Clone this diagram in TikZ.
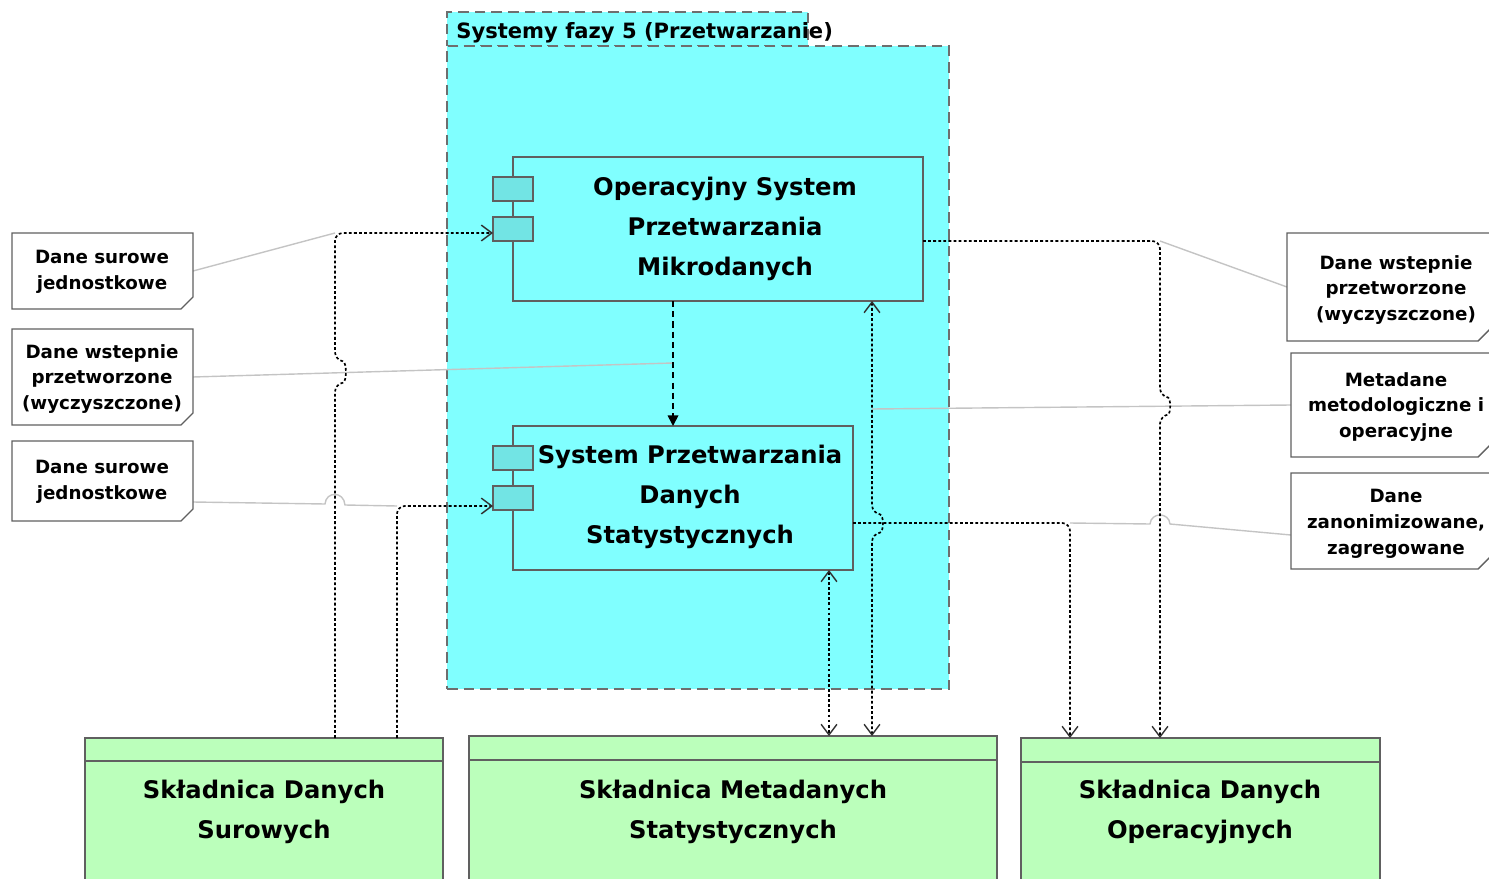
\documentclass[tikz,border=0pt]{standalone}
\usepackage{fontspec}
\setmainfont{DejaVu Sans}
\usetikzlibrary{arrows.meta,fit,calc}
\definecolor{pkgfill}{HTML}{80FFFF}
\definecolor{portfill}{HTML}{72E4E4}
\definecolor{storefill}{HTML}{BBFFBB}
\definecolor{edge}{HTML}{606060}
\definecolor{pkgedge}{HTML}{6E6E6E}
\definecolor{notegray}{HTML}{C4C4C4}
\definecolor{tipgray}{HTML}{303030}
\begin{document}
\begin{tikzpicture}[x=0.02cm,y=-0.02cm,
  pkgbox/.style={draw=pkgedge, fill=pkgfill, line width=1.2pt, dash pattern=on 6pt off 3.5pt, inner sep=0pt, outer sep=0pt},
  compbox/.style={draw=edge, fill=pkgfill, line width=0.9pt, inner sep=0pt, outer sep=0pt},
  portbox/.style={draw=edge, fill=portfill, line width=0.9pt, inner sep=0pt, outer sep=0pt},
  storebox/.style={draw=edge, fill=storefill, line width=0.9pt, inner sep=0pt, outer sep=0pt},
  notearea/.style={inner sep=0pt, outer sep=0pt},
  noteborder/.style={draw=edge, fill=white, line width=0.8pt},
  bigtext/.style={font=\bfseries\fontsize{13.8}{22.7}\selectfont, align=center, inner sep=0pt},
  notetext/.style={font=\bfseries\fontsize{10.4}{14.7}\selectfont, align=center, inner sep=0pt},
  titletext/.style={font=\bfseries\fontsize{12}{14}\selectfont, inner sep=0pt},
  noteline/.style={draw=notegray, line width=0.8pt},
  flow/.style={line width=0.95pt, dash pattern=on 1.6pt off 1.3pt, rounded corners=4.5pt},
  barb/.tip={Straight Barb[length=6pt,width=9pt,line width=0.8pt,color=tipgray]},
  trace/.style={line width=0.95pt, dash pattern=on 3.5pt off 2.3pt}
]
\useasboundingbox (0,0) rectangle (1489,879);
\clip (0,0) rectangle (1489,879);

% ---- package with its tab ----
\node[pkgbox, fit={(447,12) (808,46)}] (pkgtab) {};
\node[pkgbox, fit={(447,46) (949,689)}] (pkg) {};
\node[titletext, anchor=west] (pkgtitle) at (456,33) {Systemy fazy 5 (Przetwarzanie)};

% ---- components ----
\node[compbox, fit={(513,157) (923,301)}] (c1) {};
\node[portbox, fit={(493,177) (533,201)}] (c1p1) {};
\node[portbox, fit={(493,217) (533,241)}] (c1p2) {};
\node[bigtext] (c1t) at (725,229) {Operacyjny System\\Przetwarzania\\Mikrodanych};

\node[compbox, fit={(513,426) (853,570)}] (c2) {};
\node[portbox, fit={(493,446) (533,470)}] (c2p1) {};
\node[portbox, fit={(493,486) (533,510)}] (c2p2) {};
\node[bigtext] (c2t) at (690,497) {System Przetwarzania\\Danych\\Statystycznych};

% ---- data stores ----
\node[storebox, fit={(85,738) (443,900)}] (sds) {};
\draw[edge, line width=0.9pt] (85,761) -- (443,761);
\node[bigtext] (sdst) at (264,812) {Składnica Danych\\Surowych};

\node[storebox, fit={(469,736) (997,900)}] (sms) {};
\draw[edge, line width=0.9pt] (469,760) -- (997,760);
\node[bigtext] (smst) at (733,812) {Składnica Metadanych\\Statystycznych};

\node[storebox, fit={(1021,738) (1380,900)}] (sdo) {};
\draw[edge, line width=0.9pt] (1021,762) -- (1380,762);
\node[bigtext] (sdot) at (1200,812) {Składnica Danych\\Operacyjnych};

% ---- route positions ----
\coordinate (xA) at (335,0);
\coordinate (xB) at (397,0);
\coordinate (xC) at (673,0);
\coordinate (xG) at (829,0);
\coordinate (xF) at (872,0);
\coordinate (xE) at (1070,0);
\coordinate (xD) at (1160,0);
\coordinate (yA) at (0,233);
\coordinate (yB) at (0,506);
\coordinate (yD) at (0,241);
\coordinate (yE) at (0,523);
\coordinate (onC) at (673,363);
\coordinate (onF) at (872,409);

% ---- note links ----
\node[notearea, fit={(12,233) (193,309)}] (nL1) {};
\node[notearea, fit={(12,329) (193,425)}] (nL2) {};
\node[notearea, fit={(12,441) (193,521)}] (nL3) {};
\node[notearea, fit={(1287,233) (1490,341)}] (nR1) {};
\node[notearea, fit={(1291,353) (1490,457)}] (nR2) {};
\node[notearea, fit={(1291,473) (1490,569)}] (nR3) {};

\draw[noteline] (nL1.east) -- (xA |- yA);
\draw[noteline] (nL2.east) -- (onC);
\draw[noteline] ($(nL3.south east)+(0,-19)$) -- (325,504) .. controls (326,491) and (344,491) .. (345,505) -- (xB |- yB);
\draw[noteline] (nR1.west) -- (xD |- yD);
\draw[noteline] (nR2.west) -- (onF);
\draw[noteline] ($(nR3.south west)+(0,-34)$) -- (1170,524) .. controls (1169,512) and (1151,512) .. (1150,524) -- (xE |- yE);

% ---- dependencies ----
\draw[flow, -barb] (xA |- sds.north) -- (335,384) .. controls (347,382) and (347,362) .. (335,360) -- (xA |- yA) -- (c1p2.west |- yA);
\draw[flow, -barb] (xB |- sds.north) -- (xB |- yB) -- (c2p2.west |- yB);
\draw[trace, -{Triangle[length=6pt,width=6pt]}] (xC |- c1.south) -- (xC |- c2.north);
\draw[flow, -barb] (c1.east |- yD) -- (xD |- yD) -- (1160,396) .. controls (1171,398) and (1171,414) .. (1160,416) -- (xD |- sdo.north);
\draw[flow, -barb] (c2.east |- yE) -- (xE |- yE) -- (xE |- sdo.north);
\draw[flow, barb-barb] (xF |- c1.south) -- (872,513) .. controls (884,515) and (884,532) .. (872,534) -- (xF |- sms.north);
\draw[flow, barb-barb] (xG |- c2.south) -- (xG |- sms.north);

% ---- notes ----
\foreach \n in {nL1,nL2,nL3,nR1,nR2,nR3} {
  \draw[noteborder] (\n.north west) -- (\n.north east) -- ($(\n.south east)+(0,-12)$) -- ($(\n.south east)+(-12,0)$) -- (\n.south west) -- cycle;
}
\node[notetext] (nL1t) at (102,272) {Dane surowe\\jednostkowe};
\node[notetext] (nL2t) at (102,379) {Dane wstepnie\\przetworzone\\(wyczyszczone)};
\node[notetext] (nL3t) at (102,482) {Dane surowe\\jednostkowe};
\node[notetext] (nR1t) at (1396,290) {Dane wstepnie\\przetworzone\\(wyczyszczone)};
\node[notetext] (nR2t) at (1396,407) {Metadane\\metodologiczne i\\operacyjne};
\node[notetext] (nR3t) at (1396,524) {Dane\\zanonimizowane,\\zagregowane};
\end{tikzpicture}
\end{document}
